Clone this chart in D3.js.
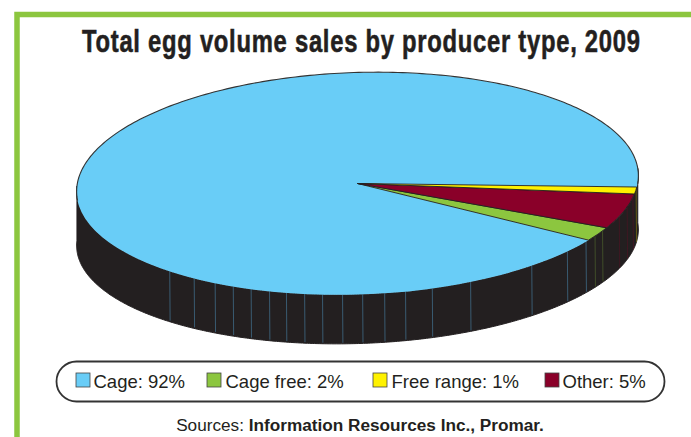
<!DOCTYPE html>
<html><head><meta charset="utf-8">
<script src="https://cdn.jsdelivr.net/npm/d3@7"></script>
<style>html,body{margin:0;padding:0;background:#fff}svg{display:block}</style>
</head><body><script>
const titleText = "Total egg volume sales by producer type, 2009";
const categories = ["Free range", "Other", "Cage free", "Cage"];
const shares = [1, 5, 2, 92];
const colors = ["#fff200", "#8a0029", "#8cc63f", "#69cdf7"];
const legendOrder = ["Cage", "Cage free", "Free range", "Other"];
const legendX = [76, 207, 373, 545];
const legendTextX = [94, 226, 392, 563];
const seamDegrees = [36.3,42.4,52.4,67,75.3,80.9,85.2,89.7,93.8,97.9,101.6,105.4,109,113,117,121.2,126.3,132.7];
const seamColoredDegrees = [[12,"#8a0029"],[17,"#8a0029"],[22,"#8a0029"],[30,"#8cc63f"],[33,"#8cc63f"],[8,"#fff200"]];

const W = 691, H = 437, ink = "#231f20";
const svg = d3.select("body").append("svg").attr("width", W).attr("height", H);

// frame
svg.append("path").attr("d", `M17,${H}V14.5H${W}`).attr("fill","none").attr("stroke","#8cc63f").attr("stroke-width",5.5);

const titleScale = 0.78;
svg.append("text").attr("transform",`translate(82,52) scale(${titleScale},1)`)
  .attr("font-family","'Liberation Sans',Arial,sans-serif")
  .attr("font-weight",700).attr("font-size",30.5).attr("fill",ink)
  .attr("stroke",ink).attr("stroke-width",0.55)
  .attr("textLength",558/titleScale).attr("lengthAdjust","spacing").text(titleText);

// pie geometry
const cx = 357.5, cy = 183.5, rx = 281, ry = 111, tiltDeg = -1.9, tilt = tiltDeg * Math.PI/180;
const drop = 54, lowerRy = 106;
const startDeg = 6.6;
const rad = d3.scaleLinear().domain([0,360]).range([0,2*Math.PI]);
const ellipse = (t, ey, dy) => {
  const a = rx*Math.cos(t), b = ey*Math.sin(t);
  return [cx + a*Math.cos(tilt) - b*Math.sin(tilt), cy + dy + a*Math.sin(tilt) + b*Math.cos(tilt)];
};
const rim = t => ellipse(t, ry, 0);
const low = t => ellipse(t, lowerRy, drop);
// wall: outline of the upper rim joined to the lower rim
const sweep = d3.range(-3, 184, 0.5).map(rad);
const wallPts = sweep.map(rim).concat(sweep.slice().reverse().map(low));
svg.append("path").attr("d", d3.line().curve(d3.curveLinearClosed)(wallPts))
  .attr("fill",ink).attr("stroke",ink).attr("stroke-width",1);

// wall seams
const seamLine = d => { const p = rim(rad(d)), q = low(rad(d)); return [p[0],p[1],q[0]+0.5,q[1]-1]; };
seamDegrees.forEach(d=>{ const s=seamLine(d);
  svg.append("line").attr("x1",s[0]).attr("y1",s[1]).attr("x2",s[2]).attr("y2",s[3]).attr("stroke","#3f6a85").attr("stroke-width",0.8);});
seamColoredDegrees.forEach(([d,c])=>{ const s=seamLine(d);
  svg.append("line").attr("x1",s[0]).attr("y1",s[1]).attr("x2",s[2]).attr("y2",s[3]).attr("stroke",c).attr("stroke-width",0.7).attr("stroke-opacity",0.4);});

// top face
const pie = d3.pie().sort(null).startAngle(rad(90+startDeg)).endAngle(rad(90+startDeg+360));
const arcs = pie(shares);
const arc = d3.arc().innerRadius(0).outerRadius(1);
const g = svg.append("g").attr("transform",
  `translate(${cx},${cy}) rotate(${tiltDeg}) scale(${rx},${ry})`);
g.selectAll("path").data(arcs.slice().reverse()).join("path")
  .attr("d",arc).attr("fill",d=>colors[d.index])
  .attr("stroke",d=>d.index===3? "none": ink).attr("stroke-width",0.9)
  .attr("vector-effect","non-scaling-stroke");
// upper rim outline
svg.append("path").attr("d", d3.line().x(d=>rim(d)[0]).y(d=>rim(d)[1])(d3.range(176,366,1).map(rad)))
  .attr("fill","none").attr("stroke","#333").attr("stroke-width",1.1);

// legend
svg.append("rect").attr("x",56.5).attr("y",361.5).attr("width",608).attr("height",40).attr("rx",20).attr("ry",20)
  .attr("fill","#fff").attr("stroke","#333").attr("stroke-width",1.8);
legendOrder.forEach((name,i)=>{
  const idx = categories.indexOf(name);
  svg.append("rect").attr("x",legendX[i]).attr("y",373).attr("width",14).attr("height",14)
    .attr("fill",colors[idx]).attr("stroke","#444").attr("stroke-width",0.8);
  svg.append("text").attr("x",legendTextX[i]-0.5).attr("y",387.5)
    .attr("font-family","'Liberation Sans',Arial,sans-serif").attr("font-size",18.5).attr("fill",ink)
    .text(`${name}: ${shares[idx]}%`);
});

// source
const src = svg.append("text").attr("x",360).attr("y",431).attr("text-anchor","middle")
  .attr("font-family","'Liberation Sans',Arial,sans-serif").attr("font-size",17.2).attr("fill",ink);
src.append("tspan").text("Sources: ");
src.append("tspan").attr("font-weight",700).text("Information Resources Inc., Promar.");
</script></body></html>
